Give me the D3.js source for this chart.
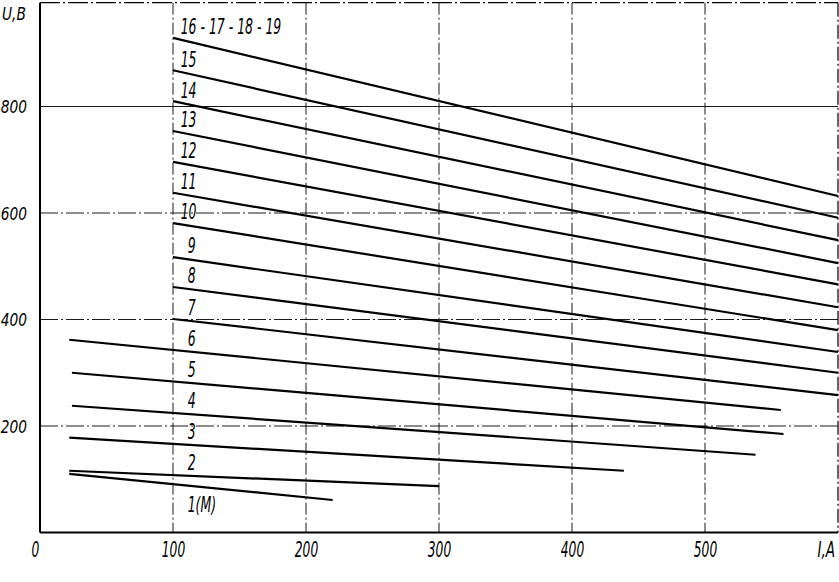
<!DOCTYPE html>
<html><head><meta charset="utf-8">
<script src="https://cdn.jsdelivr.net/npm/d3@7/dist/d3.min.js"></script>
<style>
body{margin:0;background:#fff;}
svg{display:block;}
text{font-family:"DejaVu Sans Condensed","DejaVu Sans",sans-serif;font-style:italic;fill:#000;}
</style></head>
<body>
<svg id="chart" width="839" height="582"></svg>
<script>
// ---- data ----
const seriesLabels = ["1(М)","2","3","4","5","6","7","8","9","10","11","12","13","14","15","16 - 17 - 18 - 19"];
const startI = [22,22,22,24,24,22,100,100,100,100,100,100,100,100,100,100];
const endI   = [220,300,439,538,559,557,600,600,600,600,600,600,600,600,600,600];
const startU = [110,116,178,238,300,362,401,461,517,581,638,696,754,810,868,929];
const endU   = [61,87,116,146,185,230,258,300,339,380,423,466,506,549,591,632];
const xTicks = [0,100,200,300,400,500];
const yTicks = [200,400,600,800];
const xTitle = "I,А";
const yTitle = "U,В";

// ---- scales ----
const svg = d3.select("#chart");
const x = d3.scaleLinear().domain([0,600]).range([40,838]);
const y = d3.scaleLinear().domain([0,1000]).range([532.5,0]);

// grid
const g = svg.append("g");
g.selectAll("line.vg").data(xTicks.filter(d=>d>0)).join("line")
  .attr("x1",d=>x(d)).attr("x2",d=>x(d)).attr("y1",y(995)).attr("y2",y(0))
  .attr("stroke","#000").attr("stroke-width",0.9).attr("stroke-dasharray","12,3,2,3");
g.selectAll("line.hg").data(yTicks).join("line")
  .attr("x1",x(0)).attr("x2",x(600)).attr("y1",d=>y(d)).attr("y2",d=>y(d))
  .attr("stroke","#000").attr("stroke-width",0.9)
  .attr("stroke-dasharray",d=>d===800?null:"18,3,2,3");

// frame
g.append("line").attr("x1",x(0)).attr("x2",x(0)).attr("y1",y(995)).attr("y2",y(0)).attr("stroke","#000").attr("stroke-width",2);
g.append("line").attr("x1",x(0)).attr("x2",x(600)).attr("y1",y(0)).attr("y2",y(0)).attr("stroke","#000").attr("stroke-width",2);
g.append("line").attr("x1",x(0)).attr("x2",x(600)).attr("y1",y(995)).attr("y2",y(995)).attr("stroke","#000").attr("stroke-width",1.2).attr("stroke-dasharray","20,3,2,3");
g.append("line").attr("x1",x(600)).attr("x2",x(600)).attr("y1",y(995)).attr("y2",y(0)).attr("stroke","#000").attr("stroke-width",1.2).attr("stroke-dasharray","14,3,2,3");

// axes (labels only)
const xAxis = d3.axisBottom(x).tickValues(xTicks).tickSize(0).tickPadding(0).tickFormat(d3.format("d"));
const xa = svg.append("g").attr("transform",`translate(0,${y(0)})`).call(xAxis);
xa.select(".domain").remove();
xa.selectAll("text").attr("font-size",21).attr("dy",null).attr("y",0)
  .attr("font-family",null).attr("fill","#000")
  .attr("transform",d=>`translate(${d===0?-5:0},24) scale(0.65,1)`);

const yAxis = d3.axisLeft(y).tickValues(yTicks).tickSize(0).tickPadding(0).tickFormat(d3.format("d"));
const ya = svg.append("g").attr("transform",`translate(27,0)`).call(yAxis);
ya.select(".domain").remove();
ya.selectAll("text").attr("font-size",18).attr("dy","0.35em").attr("x",0)
  .attr("font-family",null).attr("fill","#000").attr("transform","scale(0.85,1)");

svg.append("text").attr("transform",`translate(${x(600)-3},${y(0)+24}) scale(0.72,1)`)
  .attr("text-anchor","end").attr("font-size",21).text(xTitle);
svg.append("text").attr("transform","translate(2,20) scale(0.85,1)").attr("font-size",18).text(yTitle);

// series lines
const series = seriesLabels.map((name,i)=>({name,i,pts:[[startI[i],startU[i]],[endI[i],endU[i]]]}));
const line = d3.line().x(d=>x(d[0])).y(d=>y(d[1]));
svg.append("g").selectAll("path").data(series).join("path")
  .attr("d",d=>line(d.pts)).attr("fill","none").attr("stroke","#000").attr("stroke-width",2.2);

// series labels
const labI = 105;
svg.append("g").selectAll("text").data(series).join("text")
  .attr("transform",d=>{
    const [i0,u0]=d.pts[0],[i1,u1]=d.pts[1];
    const u = u0+(u1-u0)*(labI-i0)/(i1-i0);
    const px = d.i<9 ? x(labI)+8 : x(labI)+1;
    const py = d.i===0 ? y(u)+27 : y(u)-5;
    return `translate(${px},${py}) scale(0.66,1)`;
  })
  .attr("font-size",21).text(d=>d.name);
</script>
</body></html>
